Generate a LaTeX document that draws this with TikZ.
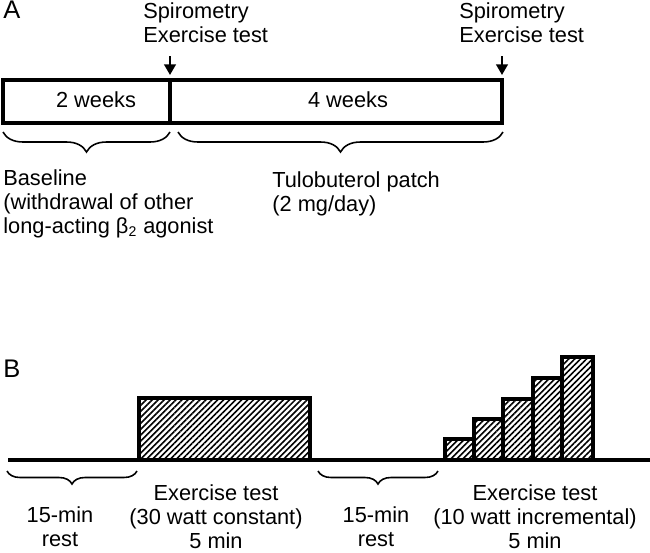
\documentclass[tikz,border=0pt]{standalone}
\usepackage{fontspec}
\setmainfont{Liberation Sans}
\usetikzlibrary{arrows.meta, decorations.pathreplacing, patterns.meta, positioning}

\begin{document}
\begin{tikzpicture}[x=0.02cm, y=-0.02cm,
    txt/.style={font=\fontsize{12.4}{13.6}\selectfont, inner sep=0pt},
    caja/.style={line width=1.9pt},
    flecha/.style={line width=1.4pt, -{Triangle[length=6pt,width=6.5pt]}},
    llave/.style={decorate, decoration={brace, mirror, amplitude=#1}, line width=0.9pt},
    rayado/.style={caja, pattern={Lines[angle=45, distance=2.4pt, line width=0.9pt]}}]
  \useasboundingbox (0,0) rectangle (650,552);

  % Panel A
  \node[txt, anchor=base west, font=\fontsize{14.5}{16}\selectfont] (letA) at (3,18) {A};
  \node[txt, anchor=base west, align=left] (sp1) at (143,42) {Spirometry\\Exercise test};
  \node[txt, anchor=base west, align=left] (sp2) at (459,42) {Spirometry\\Exercise test};
  % Barra de tiempo
  \draw[caja] (3,80) rectangle (502,123);
  \draw[caja] (170,80) -- (170,123);
  \node[txt, anchor=base] (wk2) at (96,107) {2 weeks};
  \node[txt, anchor=base] (wk4) at (348,107) {4 weeks};
  % Flechas
  \coordinate (f1) at (170,56);
  \coordinate (f1b) at (170,75);
  \coordinate (f2) at (502,56);
  \coordinate (f2b) at (502,75);
  \draw[flecha] (f1) -- (f1b);
  \draw[flecha] (f2) -- (f2b);
  % Llaves
  \coordinate (ll1a) at (3,132);
  \coordinate (ll1b) at (170,132);
  \coordinate (ll2a) at (178,132);
  \coordinate (ll2b) at (503,132);
  \draw[llave=0.4cm] (ll1a) -- (ll1b);
  \draw[llave=0.4cm] (ll2a) -- (ll2b);
  \node[txt, anchor=base west, align=left] (base) at (3,233)
    {Baseline\\(withdrawal of other\\long-acting β\textsubscript{\fontsize{8}{8}\selectfont 2} agonist};
  \node[txt, anchor=base west, align=left] (tulo) at (272,211)
    {Tulobuterol patch\\(2 mg/day)};

  % Panel B
  \node[txt, anchor=base west, font=\fontsize{14.5}{16}\selectfont] (letB) at (3,377) {B};
  \draw[caja] (8,460) -- (650,460);
  % Carga constante
  \draw[rayado] (139,398) rectangle (310,460);
  % Carga incremental
  \foreach \xa/\xb/\yt in {445/474/439, 474/503/419, 503/533/399, 533/562/378, 562/593/357}
    \draw[rayado] (\xa,\yt) rectangle (\xb,460);
  % Llaves de reposo
  \coordinate (ll3a) at (7,471);
  \coordinate (ll3b) at (137,471);
  \coordinate (ll4a) at (318,471);
  \coordinate (ll4b) at (438,471);
  \draw[llave=0.26cm] (ll3a) -- (ll3b);
  \draw[llave=0.26cm] (ll4a) -- (ll4b);
  \node[txt, anchor=base, align=center] (rest1) at (60,546) {15-min\\rest};
  \node[txt, anchor=base, align=center] (ex1) at (216,548) {Exercise test\\(30 watt constant)\\5 min};
  \node[txt, anchor=base, align=center] (rest2) at (376,546) {15-min\\rest};
  \node[txt, anchor=base, align=center] (ex2) at (535,548) {Exercise test\\(10 watt incremental)\\5 min};
\end{tikzpicture}
\end{document}
